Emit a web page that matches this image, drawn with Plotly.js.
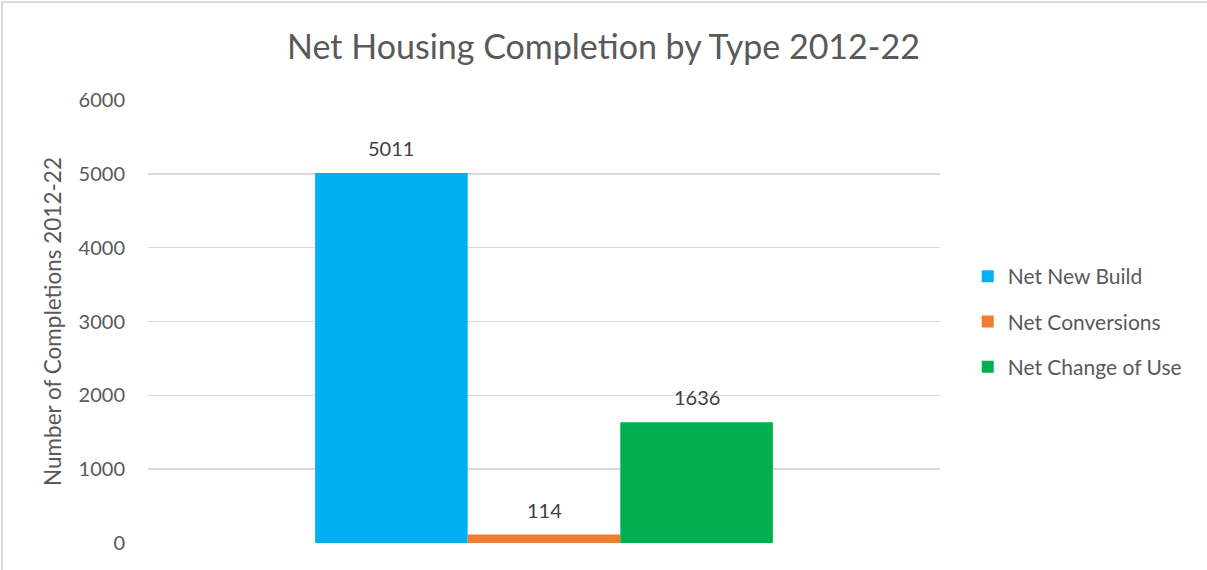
<!DOCTYPE html>
<html>
<head>
<meta charset="utf-8">
<script src="https://cdn.plot.ly/plotly-3.0.1.min.js"></script>
<style>
html,body{margin:0;padding:0;background:#fff;}
#chart{position:absolute;left:0;top:0;width:1207px;height:570px;}
#frame{position:absolute;left:1px;top:1px;width:1220px;height:600px;border-left:2px solid #d9d9d9;border-top:2px solid #d9d9d9;pointer-events:none;}
</style>
</head>
<body>
<div id="chart"></div>
<div id="frame"></div>
<script>
const categories = ["Net Housing Completion"];
const seriesNames = ["Net New Build", "Net Conversions", "Net Change of Use"];
const seriesValues = [[5011], [114], [1636]];
const seriesColors = ["#00B0F0", "#ED7D31", "#00B050"];
const yTicks = [0, 1000, 2000, 3000, 4000, 5000, 6000];

const FONT = "Lato, 'Open Sans', sans-serif";
const W = 1207, H = 570;
const M = {l: 148, r: 267, t: 100, b: 27};
const BARGAP = 0.422;

const traces = seriesNames.map((name, i) => ({
  type: "bar",
  name: name,
  x: categories,
  y: seriesValues[i],
  marker: {color: seriesColors[i]},
  legendgroup: "g" + i,
  hoverinfo: "name+y"
}));

// value labels placed via data coordinates, shifted to each bar's centre in the group
const plotW = W - M.l - M.r;
const barPx = plotW * (1 - BARGAP) / seriesNames.length;
const annotations = [];
seriesNames.forEach((name, i) => {
  categories.forEach((c, j) => {
    annotations.push({
      x: c, y: seriesValues[i][j], xref: "x", yref: "y",
      text: String(seriesValues[i][j]),
      showarrow: false,
      xanchor: "center", yanchor: "bottom",
      xshift: (i - (seriesNames.length - 1) / 2) * barPx,
      yshift: 11,
      font: {family: FONT, size: 20, color: "#404040"}
    });
  });
});

const layout = {
  width: W,
  height: H,
  margin: M,
  paper_bgcolor: "#ffffff",
  plot_bgcolor: "#ffffff",
  font: {family: FONT, color: "#595959", size: 18},
  title: {
    text: "Net Housing Completion by Type 2012-22",
    font: {family: FONT, size: 34, color: "#595959"},
    x: 0.5, xref: "container", xanchor: "center",
    y: 1 - 47/570, yref: "container", yanchor: "middle"
  },
  barmode: "group",
  bargap: BARGAP,
  bargroupgap: 0,
  xaxis: {
    showticklabels: false,
    showgrid: false,
    zeroline: false,
    showline: false,
    ticks: ""
  },
  yaxis: {
    range: [0, 6000],
    tickvals: yTicks,
    ticktext: yTicks.map(String),
    showgrid: true,
    gridcolor: "#d9d9d9",
    gridwidth: 1.5,
    zeroline: false,
    showline: false,
    ticks: "",
    ticklabelstandoff: 22,
    tickfont: {family: FONT, size: 20, color: "#595959"},
    title: {
      text: "Number of Completions 2012-22",
      font: {family: FONT, size: 22.5, color: "#595959"},
      standoff: 10
    }
  },
  legend: {
    x: 1.035, xanchor: "left",
    y: 0.5, yanchor: "middle",
    font: {family: FONT, size: 21, color: "#595959"},
    traceorder: "grouped",
    tracegroupgap: 15,
    itemwidth: 30,
    bgcolor: "rgba(0,0,0,0)"
  },
  annotations: annotations,
  showlegend: true
};

Plotly.newPlot("chart", traces, layout, {displayModeBar: false, staticPlot: true});
</script>
</body>
</html>
